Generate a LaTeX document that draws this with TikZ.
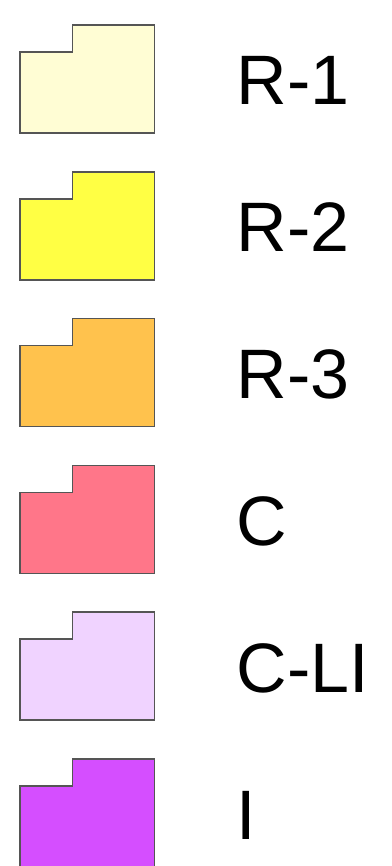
\documentclass[tikz,border=0pt]{standalone}
\usepackage{fontspec}
\setmainfont{Liberation Sans}
\definecolor{cA}{HTML}{FFFDD4}
\definecolor{cB}{HTML}{FFFF44}
\definecolor{cC}{HTML}{FFC24D}
\definecolor{cD}{HTML}{FF7689}
\definecolor{cE}{HTML}{F0D3FF}
\definecolor{cF}{HTML}{D54EFF}
\definecolor{edge}{HTML}{555555}
\tikzset{
  swatch/.style={draw=edge, line width=1.5pt, line join=miter},
  lbl/.style={anchor=base west, inner sep=0pt, font=\fontsize{70}{70}\selectfont}
}
\begin{document}
\begin{tikzpicture}[x=1pt,y=-1pt]
\useasboundingbox (0,0) rectangle (391,866);
\foreach \i/\c/\t in {0/cA/R-1,1/cB/R-2,2/cC/R-3,3/cD/C,4/cE/C-LI,5/cF/I}{
  \pgfmathsetmacro{\top}{25+146.8*\i}
  \fill[\c, swatch] (20,\top+27) -- (72.3,\top+27) -- (72.3,\top) -- (154.3,\top) -- (154.3,\top+108) -- (20,\top+108) -- cycle;
  \node[lbl] (t\i) at (236.5,\top+80) {\t};
}
\end{tikzpicture}
\end{document}
